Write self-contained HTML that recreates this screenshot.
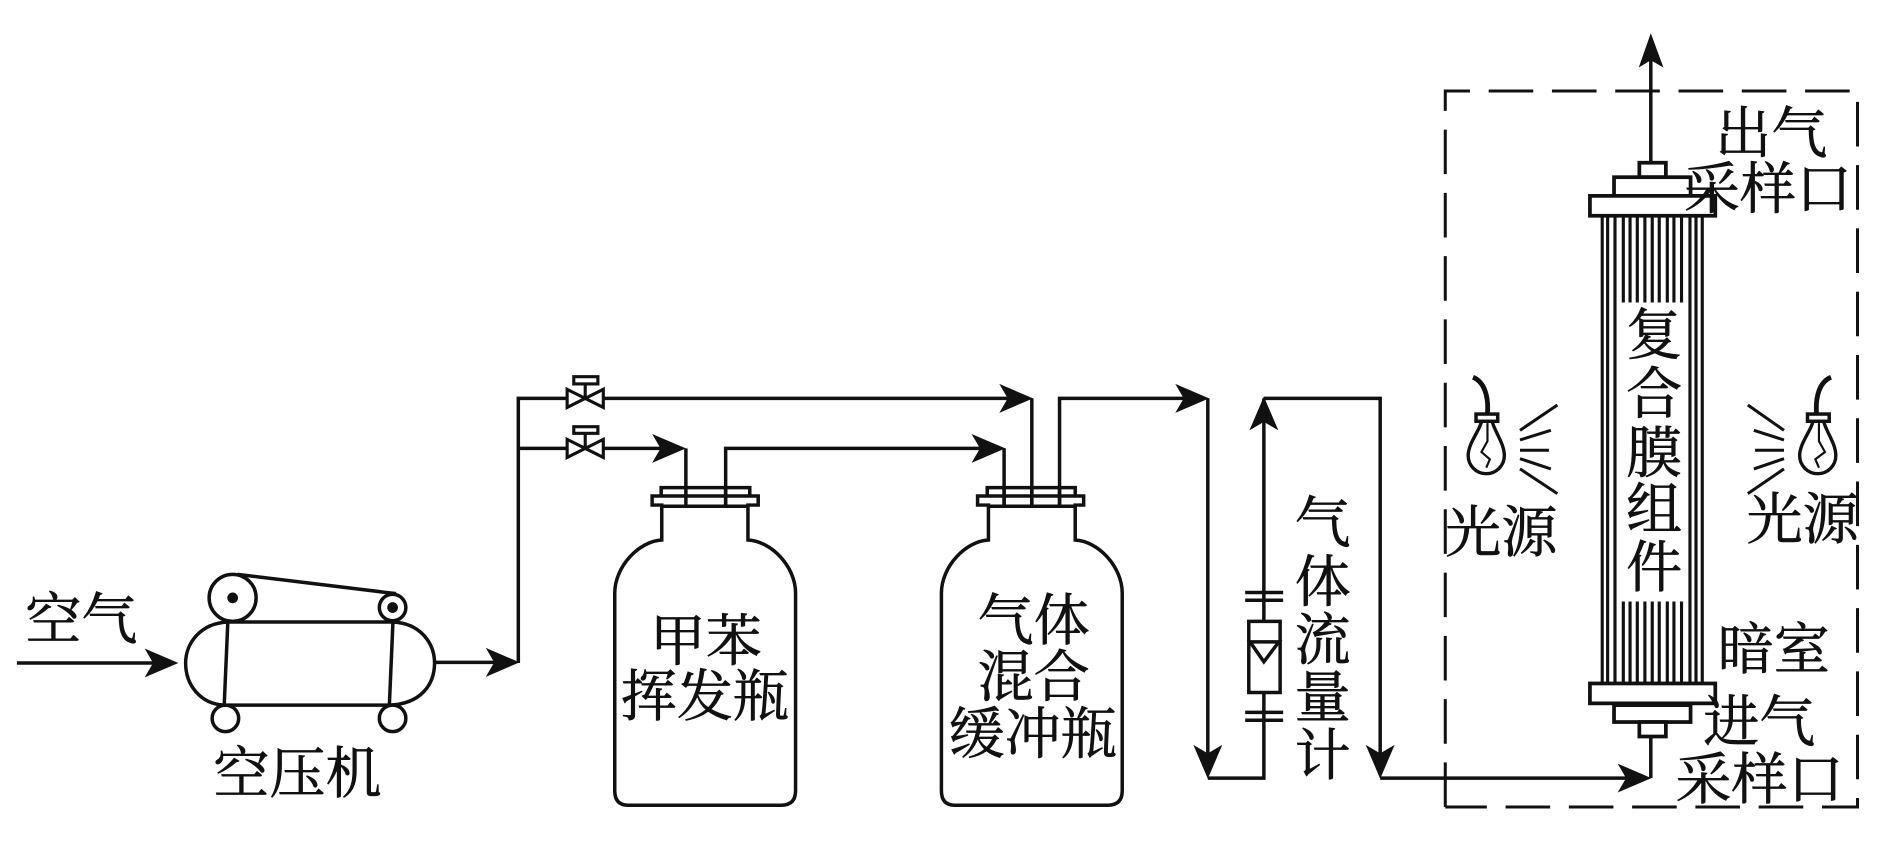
<!DOCTYPE html>
<html><head><meta charset="utf-8"><style>
html,body{margin:0;padding:0;background:#fff;width:1890px;height:868px;overflow:hidden}
svg{display:block}
text{font-family:"Liberation Serif","Noto Serif CJK SC",serif;font-size:46.5px;fill:#111;stroke:#111;stroke-width:.55px}
</style></head><body>
<svg width="1890" height="868" viewBox="0 0 1890 868" xmlns="http://www.w3.org/2000/svg">
<defs><path id="a" d="M0 0L-28 -12L-21 0L-28 12Z" fill="#111" stroke="none"/></defs>
<g transform="scale(1.2054)" fill="none" stroke="#111" stroke-width="2.9">
<!-- air in -->
<path d="M14 550H140"/><use href="#a" transform="translate(148 550)"/>
<!-- compressor -->
<circle cx="193" cy="496" r="19.5"/><circle cx="193" cy="496" r="3" fill="#111"/>
<circle cx="325.7" cy="504" r="11"/><circle cx="325.7" cy="504" r="3" fill="#111"/>
<path d="M197 476.5L328.6 492.5"/>
<path d="M189 516H326M186 585H323M189 516L186 585M326 516L323 585"/>
<path d="M189 516C166 517 154 534 154 550C154 568 166 584 186 585"/>
<path d="M326 516C349 517 360.5 534 360.5 550C360.5 568 349 584 323 585"/>
<circle cx="187" cy="596" r="11"/><circle cx="325.7" cy="596" r="11"/>
<!-- pipes -->
<path d="M361 549.500H424"/><use href="#a" transform="translate(431 549.500)"/>
<path d="M430 550V330.500H472M498 330.500H850"/><use href="#a" transform="translate(857 330.500)"/>
<path d="M430 372H472M498 372H560"/><use href="#a" transform="translate(569 372)"/>
<path d="M569 372V405"/>
<path d="M602 420V372H826"/><use href="#a" transform="translate(834 372)"/>
<path d="M833 372V420M856 330.500V420M879 420V330.500H996"/><use href="#a" transform="translate(1003 330.500)"/>
<path d="M1002 330.500V640"/><use href="#a" transform="translate(1002 646) rotate(90)"/>
<path d="M1002 645.500H1048.500V330.500"/><use href="#a" transform="translate(1048.500 329) rotate(-90)"/>
<path d="M1048.500 330.500H1145V640"/><use href="#a" transform="translate(1145 646) rotate(90)"/>
<path d="M1145 645.500H1362"/><use href="#a" transform="translate(1370 645.500)"/>
<path d="M1369.500 645.500V611"/>
<!-- valves -->
<g fill="#fff" stroke-width="2.6">
<path d="M470.500 323L500.500 338V323L470.500 338Z"/><path d="M485.500 330.500V318"/><rect x="476" y="312.500" width="20" height="6"/>
<path d="M470.500 364.500L500.500 379.500V364.500L470.500 379.500Z"/><path d="M485.500 372V359.500"/><rect x="476" y="354" width="20" height="5.500"/>
</g>
<!-- bottle 1 -->
<path d="M548.500 411.500V404.500H622V411.500"/>
<path d="M549 420H620.500M541 411.500H629V419H620.500V448C640 449 660 470 660 492V656Q660 668 648 668H521Q510 668 510 656V492C510 470 530 449 549 448V419H541Z"/>
<path d="M569 404.500V420M602 404.500V420"/>
<!-- bottle 2 -->
<path d="M819 411.500V404.500H892V411.500"/>
<path d="M820 420H892M811 411.500H899V419H892V448C911 449 931 470 931 492V656Q931 668 919 668H792Q781 668 781 656V492C781 470 801 449 820 448V419H811Z"/>
<path d="M833 404.500V420M856 404.500V420M879 404.500V420"/>
<!-- flow meter -->
<path d="M1033 491.500H1064.500M1033 498H1064.500M1033 591H1064.500M1033 597.500H1064.500"/>
<rect x="1036" y="515.500" width="26" height="59" fill="#fff"/>
<path d="M1037 532.500H1061L1048.500 549Z"/>
<!-- dashed box -->
<path d="M1199 669.500V75.500H1541V669.500H1199" stroke-dasharray="37 15.500" stroke-width="2.500"/>
<!-- top arrow -->
<path d="M1369.500 134V50"/><path d="M1369.500 27.500L1359.500 56L1369.500 50L1380 56Z" fill="#111" stroke="none"/>
<!-- membrane module -->
<path stroke-width="2.600" d="M1329.200 179V567M1333.700 179V567M1339.800 179V567M1402 179V567M1407 179V567M1412.200 179V567"/>
<path stroke-width="2.600" d="M1346.700 179V251M1352.300 179V251M1358.300 179V251M1364.600 179V251M1370.700 179V251M1376.500 179V251M1383.200 179V251M1388.700 179V251M1395 179V251M1346.700 499V567M1352.300 499V567M1358.300 499V567M1364.600 499V567M1370.700 499V567M1376.500 499V567M1383.200 499V567M1388.700 499V567M1395 499V567"/>
<g stroke-width="3.100" fill="#fff">
<rect x="1360" y="135" width="22" height="12"/><rect x="1339" y="147" width="63.500" height="15.500"/><rect x="1319" y="162.500" width="104" height="16.500"/>
<rect x="1319" y="567" width="104" height="16.500"/><rect x="1339" y="585" width="63.500" height="14"/><rect x="1360" y="599" width="22" height="12"/>
</g>
<!-- bulbs -->
<path d="M1222 313C1232 317 1235 330 1234 343" stroke-width="4"/>
<rect x="1224.500" y="343.500" width="18" height="6"/>
<path d="M1229 350C1227 358 1218 368 1218 378A15 15 0 0 0 1248 378C1248 368 1240 358 1238 350" stroke-width="2.800"/>
<path d="M1234 351V366L1229 375L1236 381L1233 388" stroke-width="1.800"/>
<path d="M1519 313C1509 317 1506 330 1507 343" stroke-width="4"/>
<rect x="1499.500" y="343.500" width="18" height="6"/>
<path d="M1504 350C1502 358 1493 368 1493 378A15 15 0 0 0 1523 378C1523 368 1515 358 1513 350" stroke-width="2.800"/>
<path d="M1509 351V366L1514 375L1506 381L1509 388" stroke-width="1.800"/>
<path stroke-width="2.500" d="M1261 357L1292 336M1261 365L1286.600 357M1261 373.500H1285M1261 380.500L1286.600 389M1261 389L1292 409.500"/>
<path stroke-width="2.500" d="M1450 336L1480 357M1455 357L1480 365M1456 373.500H1480M1455 389L1480 380.500M1450 409.500L1480 389"/>
</g>
<g transform="scale(1.2054)">
<text x="21" y="530">空气</text>
<text x="177" y="658">空压机</text>
<text x="539" y="548">甲苯</text>
<text x="515" y="594">挥发瓶</text>
<text x="811" y="531">气体</text>
<text x="811" y="578">混合</text>
<text x="787" y="625">缓冲瓶</text>
<text x="1074" y="450">气</text>
<text x="1074" y="499">体</text>
<text x="1074" y="547">流</text>
<text x="1074" y="595">量</text>
<text x="1074" y="643">计</text>
<text x="1349" y="294">复</text>
<text x="1349" y="343">合</text>
<text x="1349" y="392">膜</text>
<text x="1349" y="439">组</text>
<text x="1349" y="487">件</text>
<text x="1199" y="458">光源</text>
<text x="1449" y="447">光源</text>
<text x="1423" y="127">出气</text>
<text x="1397" y="173">采样口</text>
<text x="1425" y="555">暗室</text>
<text x="1413" y="615">进气</text>
<text x="1390" y="663">采样口</text>
</g>
</svg>
</body></html>
